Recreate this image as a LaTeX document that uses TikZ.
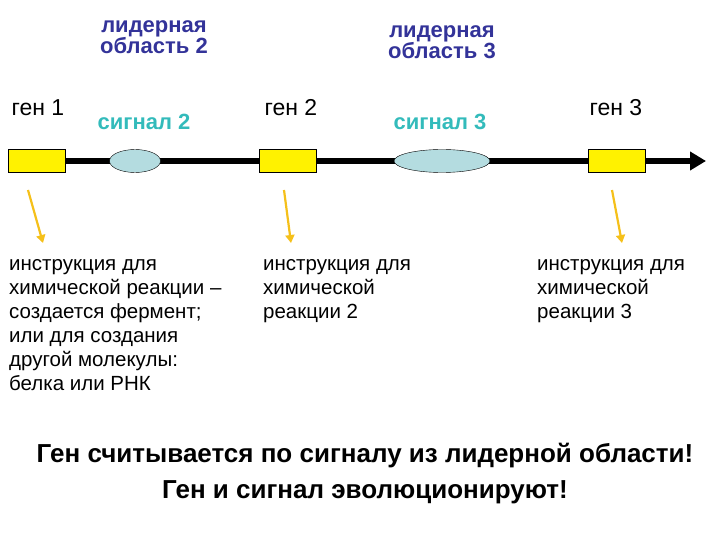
\documentclass[tikz,border=0pt]{standalone}
\usepackage{fontspec}
\setmainfont{Liberation Sans}
\usetikzlibrary{arrows.meta,shapes.geometric}
\definecolor{lead}{HTML}{333399}
\definecolor{sig}{HTML}{33BBBB}
\definecolor{gold}{HTML}{F5C01A}
\definecolor{ell}{HTML}{B4DCE0}
\begin{document}
\begin{tikzpicture}[x=1pt,y=-1pt,
 gene/.style={draw,fill=yellow,minimum width=57pt,minimum height=23pt,inner sep=0},
 sigell/.style={draw,fill=ell,ellipse,inner sep=0,minimum height=23pt},
 leadl/.style={font=\fontsize{22}{21}\bfseries\selectfont,text=lead,align=center,inner sep=0},
 sigl/.style={font=\fontsize{22}{20}\bfseries\selectfont,text=sig,inner sep=0},
 genel/.style={font=\fontsize{23}{20}\selectfont,inner sep=0},
 arr/.style={gold,line width=2.2pt,-{Triangle[length=8pt,width=9pt]}},
 body/.style={font=\fontsize{20.5}{24}\selectfont,align=left,anchor=north west,inner sep=0}]
\useasboundingbox (0,0) rectangle (720,540);
\coordinate (ls) at (8,161);
\coordinate (le) at (706,161);
\draw[line width=6pt,-{Triangle[length=16pt,width=18pt]}] (ls) -- (le);
\node[gene] (g1) at (36.5,161) {};
\node[gene] (g2) at (287.5,161) {};
\node[gene] (g3) at (616.5,161) {};
\node[sigell,minimum width=51pt] (s2) at (135,161) {};
\node[sigell,minimum width=96pt] (s3) at (442,161) {};
\node[leadl] (l2) at (154,37) {лидерная\\область 2};
\node[leadl] (l3) at (442,42) {лидерная\\область 3};
\node[sigl] (t2) at (144,122) {сигнал 2};
\node[sigl] (t3) at (440,122) {сигнал 3};
\node[genel] (n1) at (38,108) {ген 1};
\node[genel] (n2) at (291,108) {ген 2};
\node[genel] (n3) at (616,108) {ген 3};
\coordinate (a1s) at (28,190); \coordinate (a1e) at (43,243);
\coordinate (a2s) at (284,190); \coordinate (a2e) at (291,243);
\coordinate (a3s) at (612,190); \coordinate (a3e) at (622,243);
\draw[arr] (a1s) -- (a1e);
\draw[arr] (a2s) -- (a2e);
\draw[arr] (a3s) -- (a3e);
\node[body] (b1) at (9,259) {инструкция для\\химической реакции –\\создается фермент;\\или для создания\\другой молекулы:\\белка или РНК};
\node[body] (b2) at (263,259) {инструкция для\\химической\\реакции 2};
\node[body] (b3) at (537,259) {инструкция для\\химической\\реакции 3};
\node[font=\fontsize{26}{36}\bfseries\selectfont,align=center,inner sep=0] (bot) at (365,474) {Ген считывается по сигналу из лидерной области!\\Ген и сигнал эволюционируют!};
\end{tikzpicture}
\end{document}
